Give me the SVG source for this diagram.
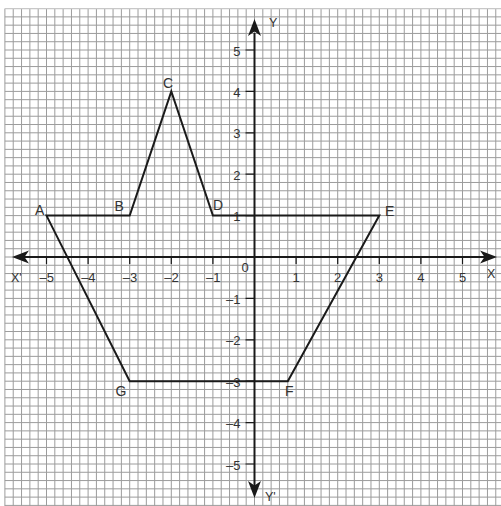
<svg xmlns="http://www.w3.org/2000/svg" width="501" height="506" viewBox="0 0 501 506">
<style>
.grid{stroke:#9c9c9c;stroke-width:1;fill:none}
.axis{stroke:#1a1a1a;stroke-width:2;fill:none}
.tick{stroke:#1a1a1a;stroke-width:1.2;fill:none}
.edge{stroke:#1a1a1a;stroke-width:2;fill:none;stroke-linejoin:miter}
.num{font-family:"Liberation Sans",Arial,sans-serif;font-size:13px;fill:#333}
.lbl{font-family:"Liberation Sans",Arial,sans-serif;font-size:14px;fill:#333}
.ax{font-family:"Liberation Sans",Arial,sans-serif;font-size:12.5px;fill:#333}
</style>
<rect width="501" height="506" fill="#fff"/>
<g id="grid">
<path class="grid" d="M4.9 8.6V506M13.22 8.6V506M21.54 8.6V506M29.86 8.6V506M38.18 8.6V506M46.5 8.6V506M54.82 8.6V506M63.14 8.6V506M71.46 8.6V506M79.78 8.6V506M88.1 8.6V506M96.42 8.6V506M104.74 8.6V506M113.06 8.6V506M121.38 8.6V506M129.7 8.6V506M138.02 8.6V506M146.34 8.6V506M154.66 8.6V506M162.98 8.6V506M171.3 8.6V506M179.62 8.6V506M187.94 8.6V506M196.26 8.6V506M204.58 8.6V506M212.9 8.6V506M221.22 8.6V506M229.54 8.6V506M237.86 8.6V506M246.18 8.6V506M254.5 8.6V506M262.82 8.6V506M271.14 8.6V506M279.46 8.6V506M287.78 8.6V506M296.1 8.6V506M304.42 8.6V506M312.74 8.6V506M321.06 8.6V506M329.38 8.6V506M337.7 8.6V506M346.02 8.6V506M354.34 8.6V506M362.66 8.6V506M370.98 8.6V506M379.3 8.6V506M387.62 8.6V506M395.94 8.6V506M404.26 8.6V506M412.58 8.6V506M420.9 8.6V506M429.22 8.6V506M437.54 8.6V506M445.86 8.6V506M454.18 8.6V506M462.5 8.6V506M470.82 8.6V506M479.14 8.6V506M487.46 8.6V506M495.78 8.6V506"/>
<path class="grid" d="M4.9 16.88H501M4.9 25.16H501M4.9 33.44H501M4.9 41.72H501M4.9 50H501M4.9 58.28H501M4.9 66.56H501M4.9 74.84H501M4.9 83.12H501M4.9 91.4H501M4.9 99.68H501M4.9 107.96H501M4.9 116.24H501M4.9 124.52H501M4.9 132.8H501M4.9 141.08H501M4.9 149.36H501M4.9 157.64H501M4.9 165.92H501M4.9 174.2H501M4.9 182.48H501M4.9 190.76H501M4.9 199.04H501M4.9 207.32H501M4.9 215.6H501M4.9 223.88H501M4.9 232.16H501M4.9 240.44H501M4.9 248.72H501M4.9 257H501M4.9 265.28H501M4.9 273.56H501M4.9 281.84H501M4.9 290.12H501M4.9 298.4H501M4.9 306.68H501M4.9 314.96H501M4.9 323.24H501M4.9 331.52H501M4.9 339.8H501M4.9 348.08H501M4.9 356.36H501M4.9 364.64H501M4.9 372.92H501M4.9 381.2H501M4.9 389.48H501M4.9 397.76H501M4.9 406.04H501M4.9 414.32H501M4.9 422.6H501M4.9 430.88H501M4.9 439.16H501M4.9 447.44H501M4.9 455.72H501M4.9 464H501M4.9 472.28H501M4.9 480.56H501M4.9 488.84H501M4.9 497.12H501M4.9 505.4H501"/>
<path d="M4.9 8.6H501" stroke="#c8c8c8" stroke-width="1.2" fill="none"/>
</g>
<g id="axes">
<path class="axis" d="M20 257H485M254.5 33V486"/>
<path d="M497 257L480 250.5L484.5 257L480 263.5Z" fill="#1a1a1a"/>
<path d="M12 257L29 250.5L24.5 257L29 263.5Z" fill="#1a1a1a"/>
<path d="M254.5 19L248 36L254.5 31.5L261 36Z" fill="#1a1a1a"/>
<path d="M254.5 498L248 481L254.5 485.5L261 481Z" fill="#1a1a1a"/>
<path class="tick" d="M46.5 257v7M88.1 257v7M129.7 257v7M171.3 257v7M212.9 257v7M296.1 257v7M337.7 257v7M379.3 257v7M420.9 257v7M462.5 257v7"/>
<path class="tick" d="M245.5 50.0h9M245.5 91.4h9M245.5 132.8h9M245.5 174.2h9M245.5 215.6h9M245.5 298.4h9M245.5 339.8h9M245.5 381.2h9M245.5 422.6h9M245.5 464h9"/>
<text class="ax" x="11" y="281.5">X'</text>
<text class="ax" x="487" y="278">X</text>
<text class="ax" x="269" y="27">Y</text>
<text class="ax" x="265" y="501">Y'</text>
<g class="num">
<text x="54" y="281.5" text-anchor="end">–5</text>
<text x="95.6" y="281.5" text-anchor="end">–4</text>
<text x="137.2" y="281.5" text-anchor="end">–3</text>
<text x="178.8" y="281.5" text-anchor="end">–2</text>
<text x="220.4" y="281.5" text-anchor="end">–1</text>
<text x="245" y="272" text-anchor="middle">0</text>
<text x="296.1" y="281.5" text-anchor="middle">1</text>
<text x="337.7" y="281.5" text-anchor="middle">2</text>
<text x="379.3" y="281.5" text-anchor="middle">3</text>
<text x="420.9" y="281.5" text-anchor="middle">4</text>
<text x="462.5" y="281.5" text-anchor="middle">5</text>
<text x="240.5" y="55.7" text-anchor="end">5</text>
<text x="240.5" y="96.7" text-anchor="end">4</text>
<text x="240.5" y="138" text-anchor="end">3</text>
<text x="240.5" y="179.5" text-anchor="end">2</text>
<text x="240.5" y="221" text-anchor="end">1</text>
<text x="240.5" y="304" text-anchor="end">–1</text>
<text x="240.5" y="345.3" text-anchor="end">–2</text>
<text x="240.5" y="387" text-anchor="end">–3</text>
<text x="240.5" y="428" text-anchor="end">–4</text>
<text x="240.5" y="469.5" text-anchor="end">–5</text>
</g>
</g>
<g id="connectors">
<path class="edge" d="M46.5 215.6L129.7 215.6L171.3 91.4L212.9 215.6L379.3 215.6L287.78 381.2L129.7 381.2Z"/>
</g>
<g id="A"><text class="lbl" x="35" y="215">A</text></g>
<g id="B"><text class="lbl" x="114.5" y="210.5">B</text></g>
<g id="C"><text class="lbl" x="163" y="88">C</text></g>
<g id="D"><text class="lbl" x="213" y="210">D</text></g>
<g id="E"><text class="lbl" x="385" y="215.5">E</text></g>
<g id="F"><text class="lbl" x="285" y="396">F</text></g>
<g id="G"><text class="lbl" x="115.5" y="396">G</text></g>
</svg>
